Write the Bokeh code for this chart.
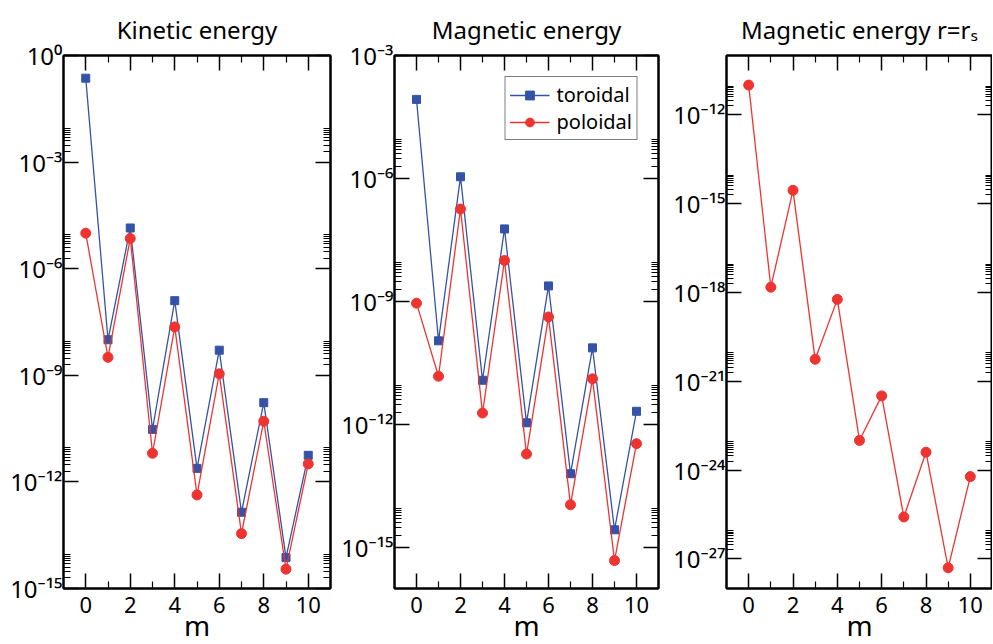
from bokeh.plotting import figure
from bokeh.models import FixedTicker, LinearAxis, LogAxis, Legend, LegendItem, Range1d
from bokeh.layouts import row
from bokeh.embed import file_html
from bokeh.resources import INLINE

# ---------------- data ----------------
m = [0, 1, 2, 3, 4, 5, 6, 7, 8, 9, 10]
kin_tor = [2.3e-1, 1.0e-8, 1.4e-5, 3.0e-11, 1.26e-7, 2.4e-12, 5.1e-9, 1.4e-13, 1.7e-10, 7.4e-15, 5.6e-12]
kin_pol = [1.0e-5, 3.2e-9, 7.1e-6, 6.4e-12, 2.3e-8, 4.3e-13, 1.1e-9, 3.5e-14, 5.1e-11, 3.5e-15, 3.2e-12]
mag_tor = [8.5e-5, 1.1e-10, 1.1e-6, 1.2e-11, 5.9e-8, 1.1e-12, 2.4e-9, 6.3e-14, 7.4e-11, 2.7e-15, 2.1e-12]
mag_pol = [9.1e-10, 1.5e-11, 1.8e-7, 1.9e-12, 1.0e-8, 1.9e-13, 4.2e-10, 1.1e-14, 1.3e-11, 4.8e-16, 3.4e-13]
rs_pol = [1.0e-11, 1.5e-18, 2.8e-15, 5.5e-21, 5.8e-19, 1.0e-23, 3.2e-22, 2.6e-26, 4.0e-24, 5.0e-28, 6.0e-25]

x_ticks = [0, 2, 4, 6, 8, 10]
x_minor = [1, 3, 5, 7, 9]
kin_exps = [0, -3, -6, -9, -12, -15]
mag_exps = [-3, -6, -9, -12, -15]
rs_exps = [-12, -15, -18, -21, -24, -27]

titles = ["Kinetic energy", "Magnetic energy", "Magnetic energy r=r\u209b"]
legend_labels = ["toroidal", "poloidal"]
x_label = "m"

BLUE = "#3453a6"
RED = "#ee3430"
FONT = "Noto Sans"

FH = 533
BT, BB = 55, 55

SUP = str.maketrans("0123456789-", "\u2070\u00b9\u00b2\u00b3\u2074\u2075\u2076\u2077\u2078\u2079\u207b")


def sup_label(e):
    return "10" + str(e).translate(SUP)


def panel(title, ylo, yhi, exps, tor, pol, bl, fw, br, legend=False):
    p = figure(width=bl + fw + br, height=BT + FH + BB, frame_width=fw, frame_height=FH,
               x_range=Range1d(-1, 11), y_range=Range1d(ylo, yhi), y_axis_type="log",
               output_backend="svg", toolbar_location=None,
               min_border_left=bl, min_border_right=br, min_border_top=BT, min_border_bottom=BB)
    p.grid.visible = False
    p.outline_line_color = "black"
    p.outline_line_width = 2
    p.background_fill_color = "white"
    p.border_fill_color = "white"

    p.title.text = title
    p.title.align = "center"
    p.title.text_font = FONT
    p.title.text_font_size = "24px"
    p.title.text_font_style = "normal"
    p.title.text_color = "black"
    p.title.standoff = 19

    majors = [10.0 ** e for e in exps]
    minors = []
    for e in exps:
        for k in range(2, 10):
            v = k * 10.0 ** e
            if ylo <= v <= yhi:
                minors.append(v)
    yt = FixedTicker(ticks=majors, minor_ticks=minors)
    xt = FixedTicker(ticks=x_ticks, minor_ticks=x_minor)
    p.xaxis.ticker = xt
    p.yaxis.ticker = yt
    p.add_layout(LinearAxis(ticker=xt), "above")
    p.add_layout(LogAxis(ticker=yt), "right")
    for ax in p.axis:
        ax.axis_line_width = 2
        ax.axis_line_color = "black"
        ax.major_tick_in = 15
        ax.major_tick_out = 0
        ax.minor_tick_in = 7
        ax.minor_tick_out = 0
        ax.major_tick_line_width = 1.5
        ax.minor_tick_line_width = 1.2
        ax.major_tick_line_color = "black"
        ax.minor_tick_line_color = "black"
        ax.major_label_text_font_size = "6px"
        ax.major_label_text_color = None
        ax.major_label_standoff = 0

    xb = p.below[0]
    xb.major_label_text_font = FONT
    xb.major_label_text_font_size = "22px"
    xb.major_label_text_color = "black"
    xb.major_label_standoff = 8
    xb.axis_label = x_label
    xb.axis_label_text_font = FONT
    xb.axis_label_text_font_size = "28px"
    xb.axis_label_text_font_style = "normal"
    xb.axis_label_text_color = "black"
    xb.axis_label_standoff = -10

    yl = p.left[0]
    yl.major_label_text_font = FONT
    yl.major_label_text_font_size = "24px"
    yl.major_label_text_color = "black"
    yl.major_label_standoff = 1
    yl.major_label_overrides = {v: sup_label(e) for v, e in zip(majors, exps)}

    renderers = []
    if tor is not None:
        l1 = p.line(m, tor, line_color=BLUE, line_width=1.3)
        s1 = p.scatter(m, tor, marker="square", size=8, fill_color=BLUE, line_color=BLUE)
        renderers.append((legend_labels[0], [l1, s1]))
    l2 = p.line(m, pol, line_color=RED, line_width=1.3)
    s2 = p.scatter(m, pol, marker="circle", size=10, fill_color=RED, line_color=RED)
    renderers.append((legend_labels[1], [l2, s2]))

    if legend:
        lg = Legend(items=[LegendItem(label=t, renderers=r) for t, r in renderers],
                    location="top_right", margin=21, padding=4, spacing=0,
                    glyph_width=40, glyph_height=22, label_height=22, label_standoff=7,
                    label_text_font=FONT, label_text_font_size="20px",
                    label_text_color="black",
                    border_line_color="black", border_line_width=1.5,
                    background_fill_color="white", background_fill_alpha=1)
        p.add_layout(lg)
    return p


p1 = panel(titles[0], 1e-15, 1e0, kin_exps, kin_tor, kin_pol, 63, 267, 8)
p2 = panel(titles[1], 1e-16, 1e-3, mag_exps, mag_tor, mag_pol, 56, 264, 8, legend=True)
p3 = panel(titles[2], 1e-28, 1e-10, rs_exps, None, rs_pol, 60, 266, 0)

layout = row(p1, p2, p3)
open("out.html", "w").write(file_html(layout, INLINE))
